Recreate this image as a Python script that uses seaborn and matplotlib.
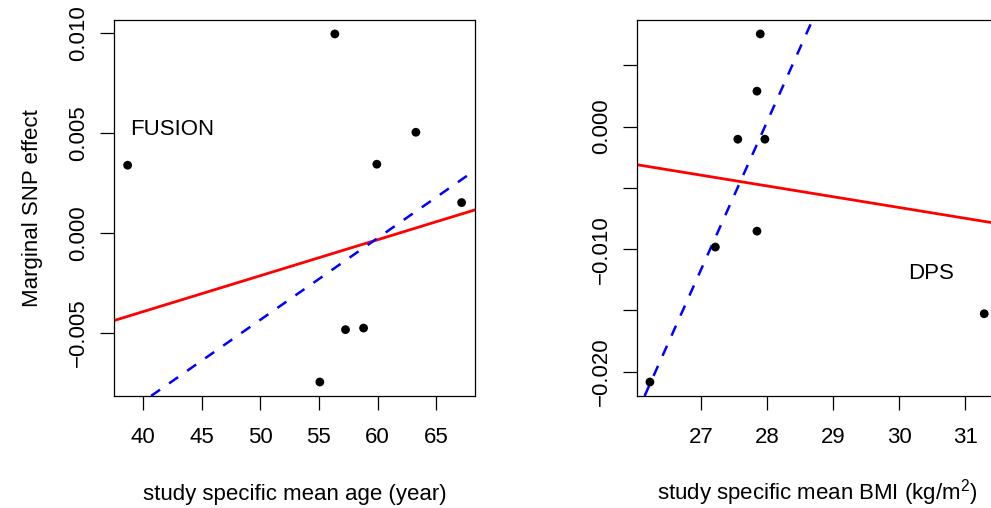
import matplotlib
matplotlib.use("Agg")
import matplotlib.pyplot as plt
import seaborn as sns
import pandas as pd

# left panel: FUSION, age
age = [38.69, 56.36, 59.94, 63.27, 67.17, 57.27, 58.81, 55.08]
age_effect = [0.0034, 0.00997, 0.00345, 0.00505, 0.00153, -0.00483, -0.00475, -0.00745]
age_red = [-0.01113, 0.000180]      # intercept, slope
age_blue = [-0.02479, 0.000409]
age_xticks = [40, 45, 50, 55, 60, 65]
age_yticks = [-0.005, 0.000, 0.005, 0.010]

# right panel: DPS, BMI
bmi = [27.90, 27.85, 27.56, 27.97, 27.22, 27.85, 31.29, 26.23]
bmi_effect = [0.00756, 0.00289, -0.00103, -0.00103, -0.00983, -0.00853, -0.01527, -0.02084]
bmi_red = [0.0198, -0.00088]
bmi_blue = [-0.3376, 0.01207]
bmi_xticks = [27, 28, 29, 30, 31]
bmi_yticks = [-0.020, -0.015, -0.010, -0.005, 0.000, 0.005]
bmi_ylabels = ["\u22120.020", "", "\u22120.010", "", "0.000", ""]

sns.set_style("ticks")
plt.rcParams["font.family"] = ["Liberation Sans", "DejaVu Sans"]
plt.rcParams["axes.linewidth"] = 0.9
for k in ["text.color", "axes.labelcolor", "xtick.color", "ytick.color", "axes.edgecolor"]:
    plt.rcParams[k] = "black"

fs = 16
fig = plt.figure(figsize=(9.91, 5.08), dpi=100)
ax1 = fig.add_axes([0.1153, 0.2205, 0.364, 0.7402])
ax2 = fig.add_axes([0.6425, 0.2205, 0.364, 0.7402])


def fmt(v):
    s = "%.3f" % v
    return s.replace("-", "\u2212") if v < 0 else s


def panel(ax, x, y, red, blue, xlim, ylim):
    df = pd.DataFrame({"x": x, "y": y})
    sns.scatterplot(data=df, x="x", y="y", ax=ax, color="black", s=40,
                    edgecolor="none", zorder=3)
    ax.axline((0, red[0]), slope=red[1], color="#ff0000", lw=2.0, zorder=2)
    ax.axline((0, blue[0]), slope=blue[1], color="#0000ff", lw=1.8,
              dashes=(4.4, 4.4), zorder=2)
    ax.set_xlim(*xlim)
    ax.set_ylim(*ylim)
    for sp in ax.spines.values():
        sp.set_visible(True)
        sp.set_color("black")
    ax.tick_params(direction="out", length=10, width=0.9, color="black",
                   labelcolor="black", labelsize=fs)
    ax.tick_params(axis="x", pad=12)
    ax.tick_params(axis="y", pad=8)
    ax.set_xlabel("")
    ax.set_ylabel("")


panel(ax1, age, age_effect, age_red, age_blue, (37.55, 68.31), (-0.00815, 0.01067))
ax1.set_xticks(age_xticks)
ax1.set_yticks(age_yticks)
ax1.set_yticklabels([fmt(v) for v in age_yticks], rotation=90, va="center")
ax1.text(42.46, 0.00517, "FUSION", fontsize=fs, ha="center", va="center")
ax1.set_xlabel("study specific mean age (year)", fontsize=fs, labelpad=26)
ax1.set_ylabel("Marginal SNP effect", fontsize=fs, labelpad=18)

panel(ax2, bmi, bmi_effect, bmi_red, bmi_blue, (26.03, 31.49), (-0.02198, 0.0087))
ax2.set_xticks(bmi_xticks)
ax2.set_yticks(bmi_yticks)
ax2.set_yticklabels(bmi_ylabels, rotation=90, va="center")
ax2.text(30.49, -0.01195, "DPS", fontsize=fs, ha="center", va="center")
ax2.set_xlabel("study specific mean BMI (kg/m$\\mathregular{^2}$)", fontsize=fs, labelpad=21)

fig.savefig("out.png", dpi=100)
